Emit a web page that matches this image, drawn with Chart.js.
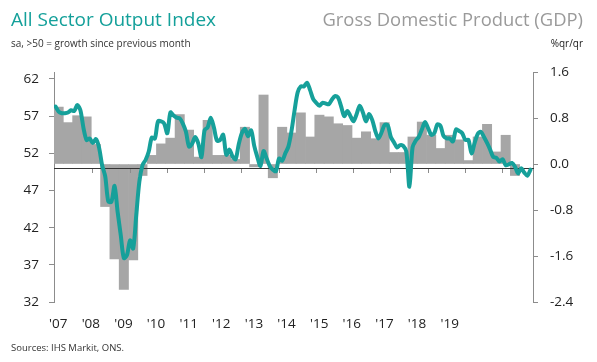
<!DOCTYPE html>
<html>
<head>
<meta charset="utf-8">
<script src="https://cdn.jsdelivr.net/npm/chart.js@4.4.0/dist/chart.umd.min.js"></script>
<style>
  body { margin: 0; background: #fff; }
  #wrap { position: relative; width: 597px; height: 362px; font-family: 'Open Sans', sans-serif; }
  #wrap canvas { position: absolute; left: 0; top: 0; }
  .txt { position: absolute; white-space: nowrap; line-height: 1; }
</style>
</head>
<body>
<div id="wrap">
  <canvas id="grafico" width="597" height="362"></canvas>
  <div class="txt" style="left:11px; top:10px; font-size:19px; color:#14a09a;">All Sector Output Index</div>
  <div class="txt" style="left:11px; top:38px; font-size:10px; color:#333;">sa, &gt;50 = growth since previous month</div>
  <div class="txt" style="right:14px; top:10px; font-size:18.4px; color:#9a9a9a;">Gross Domestic Product (GDP)</div>
  <div class="txt" style="right:14px; top:38px; font-size:10px; color:#222;">%qr/qr</div>
  <div class="txt" style="left:11px; top:343px; font-size:9.5px; color:#333;">Sources: IHS Markit, ONS.</div>
</div>
<script>
// PMI mensal (jan/2007 - out/2019), eixo da esquerda
const pmi = [
  58.3, 57.6, 57.4, 57.4, 57.5, 57.8, 57.7, 58.5, 57.8, 55.4, 53.8, 54.0,
  53.4, 53.9, 52.8, 50.4, 48.9, 45.5, 45.5, 47.6, 44.1, 41.0, 37.9, 38.3,
  40.3, 39.2, 43.7, 48.2, 50.4, 51.1, 52.2, 54.1, 54.0, 56.3, 56.3, 56.0,
  54.7, 57.5, 57.1, 56.8, 56.7, 56.0, 54.9, 52.9, 53.3, 54.2, 53.3, 51.5,
  55.1, 55.5, 56.8, 55.5, 53.7, 53.8, 54.5, 51.8, 52.5, 51.6, 51.2, 53.2,
  54.7, 55.3, 54.3, 55.1, 53.0, 51.5, 50.3, 52.3, 51.3, 50.3, 49.8, 49.6,
  51.3, 51.0, 52.0, 52.9, 55.0, 57.8, 60.2, 61.0, 61.0, 61.5, 60.5, 59.3,
  58.8, 58.4, 58.8, 58.7, 58.6, 59.2, 59.7, 59.5, 58.3, 57.0, 57.7, 57.0,
  56.3, 57.3, 58.4, 57.5, 56.3, 57.3, 56.5, 55.0, 54.0, 54.8, 55.8, 55.8,
  54.2, 53.5, 52.8, 53.1, 53.0, 52.2, 47.5, 52.8, 53.7, 54.2, 55.2, 56.2,
  55.4, 54.5, 54.7, 55.9, 55.7, 54.3, 54.0, 54.0, 53.6, 55.2, 55.0, 54.7,
  53.8, 53.8, 52.0, 53.4, 54.6, 54.9, 54.2, 53.4, 52.5, 51.5, 51.4, 50.9,
  51.2, 50.4, 50.5, 50.7, 50.2, 49.3, 50.0, 49.4, 49.0, 49.8
];
// PIB trimestral (T1/2007 - T2/2019), eixo da direita
const pib = [
  0.99, 0.72, 0.84, 0.82, 0.34, -0.74, -1.65, -2.18, -1.67, -0.20,
  0.15, 0.35, 0.45, 0.86, 0.59, 0.12, 0.76, 0.15, 0.15, 0.08,
  0.64, -0.05, 1.20, -0.24, 0.64, 0.54, 0.89, 0.47, 0.85, 0.82,
  0.70, 0.67, 0.45, 0.56, 0.44, 0.72, 0.20, 0.20, 0.47, 0.73,
  0.50, 0.27, 0.50, 0.42, 0.06, 0.47, 0.69, 0.21, 0.50, -0.20
];
const anos = ["'07", "'08", "'09", "'10", "'11", "'12", "'13", "'14", "'15", "'16", "'17", "'18", "'19"];
const ticksEsq = [32, 37, 42, 47, 52, 57, 62];
const ticksDir = [-2.4, -1.6, -0.8, 0.0, 0.8, 1.6];

const verde = '#16a09a';
const cinza = '#a6a6a6';
const eixo = '#8c8c8c';

Chart.defaults.font.family = "'Open Sans', sans-serif";
Chart.defaults.color = '#222';

// redesenha a linha do 50 por cima das barras, mas abaixo da linha
const eixoPorCima = {
  id: 'eixoPorCima',
  afterDatasetDraw(chart, args) {
    if (args.meta.type === 'bar') chart.scales.x.draw(chart.chartArea);
  }
};

new Chart(document.getElementById('grafico'), {
  data: {
    datasets: [{
      type: 'line',
      data: pmi.map((v, i) => ({ x: i, y: v })),
      xAxisID: 'x',
      yAxisID: 'y',
      borderColor: verde,
      borderWidth: 4,
      pointRadius: 0,
      tension: 0.3,
      borderCapStyle: 'round',
      borderJoinStyle: 'round',
      order: 0
    }, {
      type: 'bar',
      data: pib.map((v, q) => ({ x: q * 3 + 1, y: v })),
      xAxisID: 'x',
      yAxisID: 'y1',
      backgroundColor: cinza,
      borderWidth: 0,
      barPercentage: 1,
      categoryPercentage: 1,
      order: 1
    }]
  },
  options: {
    responsive: false,
    animation: false,
    layout: { padding: { top: 72, left: 0, right: 0, bottom: 0 } },
    plugins: { legend: { display: false }, tooltip: { enabled: false } },
    scales: {
      x: {
        type: 'linear',
        min: -0.5,
        max: 153.8,
        offset: false,
        position: { y: 50 },
        afterBuildTicks: s => { s.ticks = anos.slice(1).map((a, i) => ({ value: (i + 1) * 12 })); },
        ticks: { display: false },
        grid: { drawOnChartArea: false, offset: false, tickLength: 4, color: eixo },
        border: { color: '#333', width: 1 }
      },
      anos: {
        type: 'linear',
        axis: 'x',
        position: 'bottom',
        min: -0.129,
        max: 14.555,
        offset: false,
        afterBuildTicks: s => { s.ticks = anos.map((a, i) => ({ value: i })); },
        afterFit: s => { s.height = 60; },
        ticks: {
          callback: (v, i) => anos[i],
          autoSkip: false,
          maxRotation: 0,
          padding: 14,
          font: { size: 13.5 },
          color: '#222'
        },
        grid: { display: false, drawTicks: false },
        border: { display: false }
      },
      y: {
        position: 'left',
        min: 32,
        max: 62.94,
        afterBuildTicks: s => { s.ticks = ticksEsq.map(v => ({ value: v })); },
        afterFit: s => { s.width = 54; },
        ticks: { padding: 10, font: { size: 13.5 }, color: '#222' },
        grid: { drawOnChartArea: false, tickLength: 5, color: eixo },
        border: { color: eixo, width: 1 }
      },
      y1: {
        position: 'right',
        min: -2.4,
        max: 1.6,
        afterBuildTicks: s => { s.ticks = ticksDir.map(v => ({ value: v })); },
        afterFit: s => { s.width = 64; },
        ticks: { padding: 12, font: { size: 13.5 }, color: '#222', callback: v => v.toFixed(1) },
        grid: { drawOnChartArea: false, tickLength: 5, color: eixo },
        border: { color: eixo, width: 1 }
      }
    }
  },
  plugins: [eixoPorCima]
});
</script>
</body>
</html>
